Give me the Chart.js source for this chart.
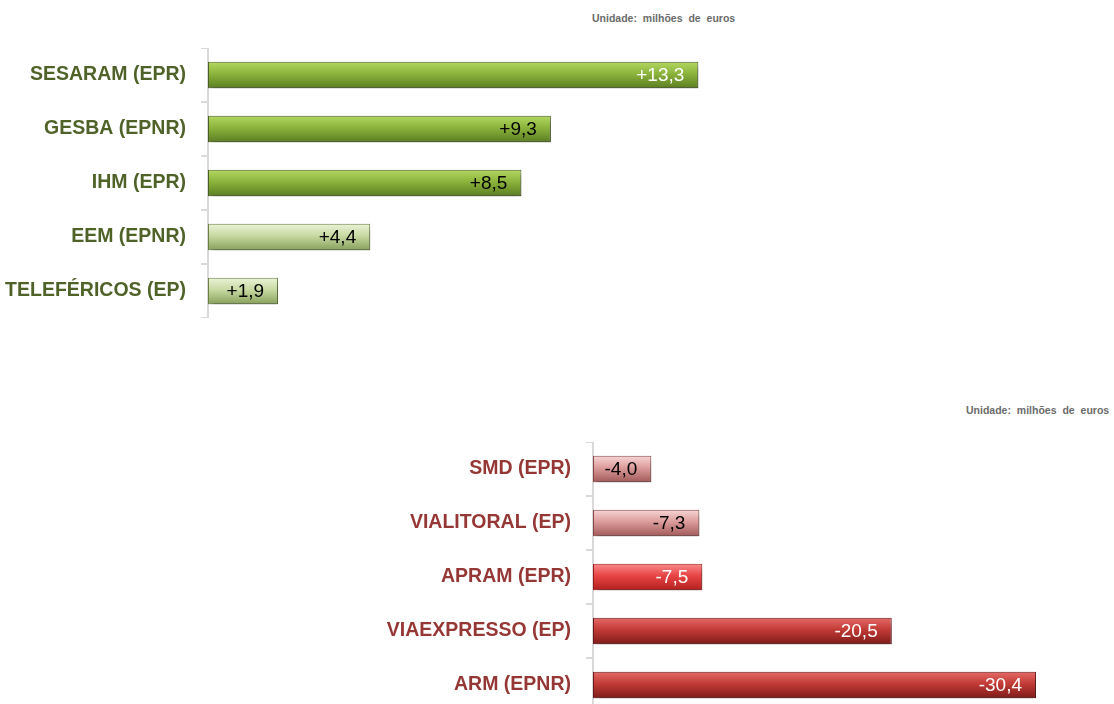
<!DOCTYPE html>
<html>
<head>
<meta charset="utf-8">
<script src="https://cdn.jsdelivr.net/npm/chart.js@4"></script>
<style>
  html, body { margin: 0; padding: 0; background: #fff; width: 1114px; height: 704px; overflow: hidden; }
  .box { position: absolute; }
  .unit { position: absolute; font-family: "Liberation Sans", Arial, sans-serif; font-size: 10.5px; font-weight: bold; color: #6b6b6b; word-spacing: 3px; white-space: nowrap; }
</style>
</head>
<body>
<div class="unit" style="left:592px; top:12px;">Unidade: milhões de euros</div>
<div class="box" style="left:0; top:48px; width:761px; height:270px;"><canvas id="topChart"></canvas></div>

<div class="unit" style="left:966px; top:404px;">Unidade: milhões de euros</div>
<div class="box" style="left:0; top:442px; width:1103px; height:270px;"><canvas id="bottomChart"></canvas></div>

<script>
const topLabels = ["SESARAM (EPR)", "GESBA (EPNR)", "IHM (EPR)", "EEM (EPNR)", "TELEFÉRICOS (EP)"];
const topValues = [13.3, 9.3, 8.5, 4.4, 1.9];

const bottomLabels = ["SMD (EPR)", "VIALITORAL (EP)", "APRAM (EPR)", "VIAEXPRESSO (EP)", "ARM (EPNR)"];
const bottomValues = [-4.0, -7.3, -7.5, -20.5, -30.4];

// gradient stops: top, middle, bottom
const GREEN = ["#b3d862", "#8cb43c", "#5b7d22"];
const PALE_GREEN = ["#eaf3d8", "#c8daa2", "#87a05c"];
const PINK = ["#f7d6d6", "#dc9c9b", "#a15a5a"];
const RED = ["#fa8c8c", "#e84444", "#b3201f"];
const DARK_RED = ["#e46a68", "#c23b36", "#7e1b1a"];

const topFills = [GREEN, GREEN, GREEN, PALE_GREEN, PALE_GREEN];
const topBorders = ["#4f6228", "#4f6228", "#4f6228", "#6f8445", "#6f8445"];
const topTextColors = ["#ffffff", "#000000", "#000000", "#000000", "#000000"];

const bottomFills = [PINK, PINK, RED, DARK_RED, DARK_RED];
const bottomBorders = ["#8c4a4a", "#8c4a4a", "#9c1c1c", "#6e1716", "#6e1716"];
const bottomTextColors = ["#000000", "#000000", "#ffffff", "#ffffff", "#ffffff"];

const FONT = "'Liberation Sans', Arial, sans-serif";
const BAR_PCT = 0.49;

function barGradient(fills) {
  return (ctx) => {
    const stops = fills[ctx.dataIndex] || fills[0];
    const chart = ctx.chart;
    if (!chart.chartArea || ctx.dataIndex === undefined) return stops[1];
    const y = chart.scales.y;
    const center = y.getPixelForValue(ctx.dataIndex);
    const half = (y.height / y.ticks.length) * BAR_PCT / 2;
    const g = chart.ctx.createLinearGradient(0, center - half, 0, center + half);
    g.addColorStop(0, stops[0]);
    g.addColorStop(0.45, stops[1]);
    g.addColorStop(1, stops[2]);
    return g;
  };
}

// soft drop shadow under the bars
const shadowPlugin = {
  id: "barShadow",
  beforeDatasetDraw(chart) {
    const c = chart.ctx;
    c.save();
    c.shadowColor = "rgba(0,0,0,0.4)";
    c.shadowBlur = 5;
    c.shadowOffsetX = 2;
    c.shadowOffsetY = 4;
  },
  afterDatasetDraw(chart) {
    chart.ctx.restore();
  }
};

function valueLabels(colors) {
  return {
    id: "valueLabels",
    afterDatasetsDraw(chart) {
      const c = chart.ctx;
      const meta = chart.getDatasetMeta(0);
      const data = chart.data.datasets[0].data;
      c.save();
      c.font = "19px " + FONT;
      c.textAlign = "right";
      c.textBaseline = "middle";
      meta.data.forEach((bar, i) => {
        const v = data[i];
        const txt = (v > 0 ? "+" : "-") + Math.abs(v).toFixed(1).replace(".", ",");
        c.fillStyle = colors[i];
        c.fillText(txt, bar.x - 14, bar.y + 1);
      });
      c.restore();
    }
  };
}

function makeChart(id, labels, values, fills, borders, textColors, labelColor, axisWidth, xOpts) {
  return new Chart(document.getElementById(id), {
    type: "bar",
    data: {
      labels,
      datasets: [{
        data: values,
        backgroundColor: barGradient(fills),
        borderColor: borders,
        borderWidth: 1,
        borderSkipped: false,
        barPercentage: BAR_PCT,
        categoryPercentage: 1
      }]
    },
    options: {
      indexAxis: "y",
      responsive: true,
      maintainAspectRatio: false,
      animation: false,
      layout: { padding: 0 },
      plugins: { legend: { display: false }, tooltip: { enabled: false } },
      scales: {
        x: Object.assign({ display: false, grid: { display: false } }, xOpts),
        y: {
          afterFit(scale) {
            scale.width = axisWidth;
            scale.paddingTop = 0;
            scale.paddingBottom = 0;
          },
          grid: { offset: true, drawOnChartArea: false, drawTicks: true, tickLength: 7, color: "#d9d9d9", lineWidth: 2 },
          border: { color: "#d9d9d9", width: 2 },
          ticks: { color: labelColor, padding: 15, font: { family: FONT, size: 19.5, weight: "bold" } }
        }
      }
    },
    plugins: [shadowPlugin, valueLabels(textColors)]
  });
}

makeChart("topChart", topLabels, topValues, topFills, topBorders, topTextColors, "#4f6228", 208,
  { min: 0, max: 15 });
makeChart("bottomChart", bottomLabels, bottomValues, bottomFills, bottomBorders, bottomTextColors, "#953735", 593,
  { min: -35, max: 0, reverse: true });
</script>
</body>
</html>
